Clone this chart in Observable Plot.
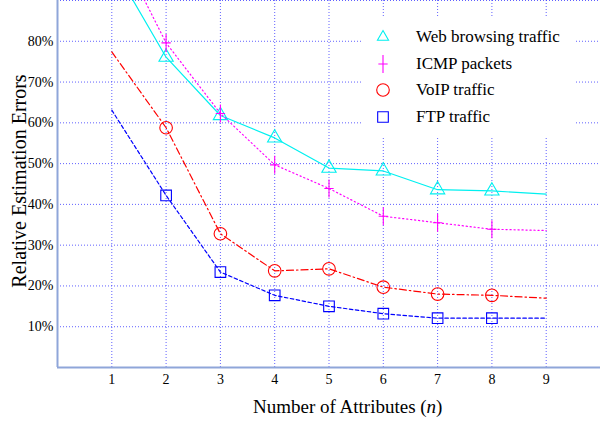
<!DOCTYPE html>
<html><head><meta charset="utf-8">
<script src="https://cdn.jsdelivr.net/npm/d3@7"></script>
<script src="https://cdn.jsdelivr.net/npm/@observablehq/plot@0.6"></script>
<style>
body{margin:0;background:#fff;}
#wrap{position:relative;width:600px;height:425px;overflow:hidden;font-family:"Liberation Serif","Times New Roman",serif;color:#000;}
#wrap svg.plot{position:absolute;left:0;top:0;}
#wrap svg.plot g[aria-label$="axis tick label"] text{font-size:14px;}
#legend{position:absolute;left:362px;top:16px;width:213px;height:122px;background:#fff;}
.lrow{position:absolute;left:0;height:26px;display:flex;align-items:center;font-size:17px;}
.lrow svg{width:44px;height:26px;}
.lrow span{margin-left:10px;}
#xtitle{position:absolute;left:253px;top:396px;font-size:19px;white-space:nowrap;}
#ytitle{position:absolute;left:19px;top:181px;font-size:20px;white-space:nowrap;transform:translate(-50%,-50%) rotate(-90deg);}
</style></head><body><div id="wrap"></div>
<script>
// ---- data ----
const attributes = [1, 2, 3, 4, 5, 6, 7, 8, 9];
const markerAttributes = [2, 3, 4, 5, 6, 7, 8];
const webBrowsing = [99, 76.1, 61.8, 56.3, 48.9, 48.2, 43.6, 43.3, 42.5];
const icmpPackets = [106, 79.6, 62.3, 49.7, 43.9, 37.1, 35.5, 33.9, 33.6];
const voipTraffic = [77.4, 58.8, 32.8, 23.7, 24.2, 19.7, 18.0, 17.7, 17.0];
const ftpTraffic = [63.1, 42.2, 23.4, 17.7, 15.0, 13.2, 12.1, 12.1, 12.1];
const seriesNames = ["Web browsing traffic", "ICMP packets", "VoIP traffic", "FTP traffic"];
const xTicks = [1, 2, 3, 4, 5, 6, 7, 8, 9];
const yTicks = [10, 20, 30, 40, 50, 60, 70, 80];
const yGrid = [10, 20, 30, 40, 50, 60, 70, 80, 90];

// ---- styles ----
const plusSymbol = {
  draw(ctx, size) {
    const r = Math.sqrt(size / Math.PI);
    ctx.moveTo(0, -r * 1.45); ctx.lineTo(0, r * 1.45);
    ctx.moveTo(-r * 0.75, 0); ctx.lineTo(r * 0.75, 0);
  }
};
const styles = [
  {color: "#00f0f0", dash: null, symbol: "triangle", r: 5.3},
  {color: "#ff00ff", dash: "1.2,2.8", symbol: plusSymbol, r: 6.2},
  {color: "#ff0000", dash: "7,3,1.5,3", symbol: "circle", r: 6.3},
  {color: "#0000ff", dash: "3.5,2.5", symbol: "square", r: 6.0}
];
const allSeries = [webBrowsing, icmpPackets, voipTraffic, ftpTraffic];

const rows = allSeries.map((vals, i) => attributes.map((n, j) => ({n, value: vals[j], series: seriesNames[i]})));

const marks = [
  Plot.gridX(xTicks, {stroke: "#3a3aff", strokeOpacity: 0.8, strokeDasharray: "1,2"}),
  Plot.gridY(yGrid, {stroke: "#3a3aff", strokeOpacity: 0.8, strokeDasharray: "1,2"}),
];
rows.forEach((data, i) => {
  const s = styles[i];
  marks.push(Plot.line(data, {x: "n", y: "value", stroke: s.color, strokeWidth: 1.2, strokeDasharray: s.dash, curve: "linear", clip: true}));
  marks.push(Plot.dot(data.filter(d => markerAttributes.includes(d.n)), {x: "n", y: "value", stroke: s.color, strokeWidth: 1.1, fill: "none", symbol: s.symbol, r: s.r}));
});
marks.push(
  Plot.ruleX([0], {stroke: "#8fa6d9", strokeWidth: 2}),
  Plot.ruleY([0], {stroke: "#8fa6d9", strokeWidth: 2}),
  Plot.axisX(xTicks, {tickSize: 0, tickPadding: 7, label: null, fontSize: 14}),
  Plot.axisY(yTicks, {tickSize: 0, tickPadding: 4, label: null, tickFormat: d => d + "%", fontSize: 14})
);

const chart = Plot.plot({
  width: 600, height: 425,
  marginLeft: 57, marginRight: 0, marginTop: 0, marginBottom: 58,
  x: {domain: [0, 10]},
  y: {domain: [0, 90]},
  style: {fontFamily: '"Liberation Serif","Times New Roman",serif', fontSize: "14px", color: "#000", background: "transparent"},
  marks
});
chart.classList.add("plot");
const wrap = document.getElementById("wrap");
wrap.appendChild(chart);

// legend
const legend = document.createElement("div");
legend.id = "legend";
seriesNames.forEach((name, i) => {
  const s = styles[i];
  const row = document.createElement("div");
  row.className = "lrow";
  row.style.top = (8 + i * 26.5) + "px";
  const size = Math.PI * s.r * s.r;
  const symType = s.symbol === "triangle" ? d3.symbolTriangle2 : s.symbol === "circle" ? d3.symbolCircle : s.symbol === "square" ? d3.symbolSquare : s.symbol;
  const path = d3.symbol().type(symType).size(size)();
  row.innerHTML = `<svg viewBox="0 0 44 26"><path transform="translate(21,13)" d="${path}" fill="none" stroke="${s.color}" stroke-width="1.1"/></svg><span>${name}</span>`;
  legend.appendChild(row);
});
wrap.appendChild(legend);

const xt = document.createElement("div");
xt.id = "xtitle";
xt.innerHTML = "Number of Attributes (<i>n</i>)";
wrap.appendChild(xt);
const yt = document.createElement("div");
yt.id = "ytitle";
yt.textContent = "Relative Estimation Errors";
wrap.appendChild(yt);
</script></body></html>
